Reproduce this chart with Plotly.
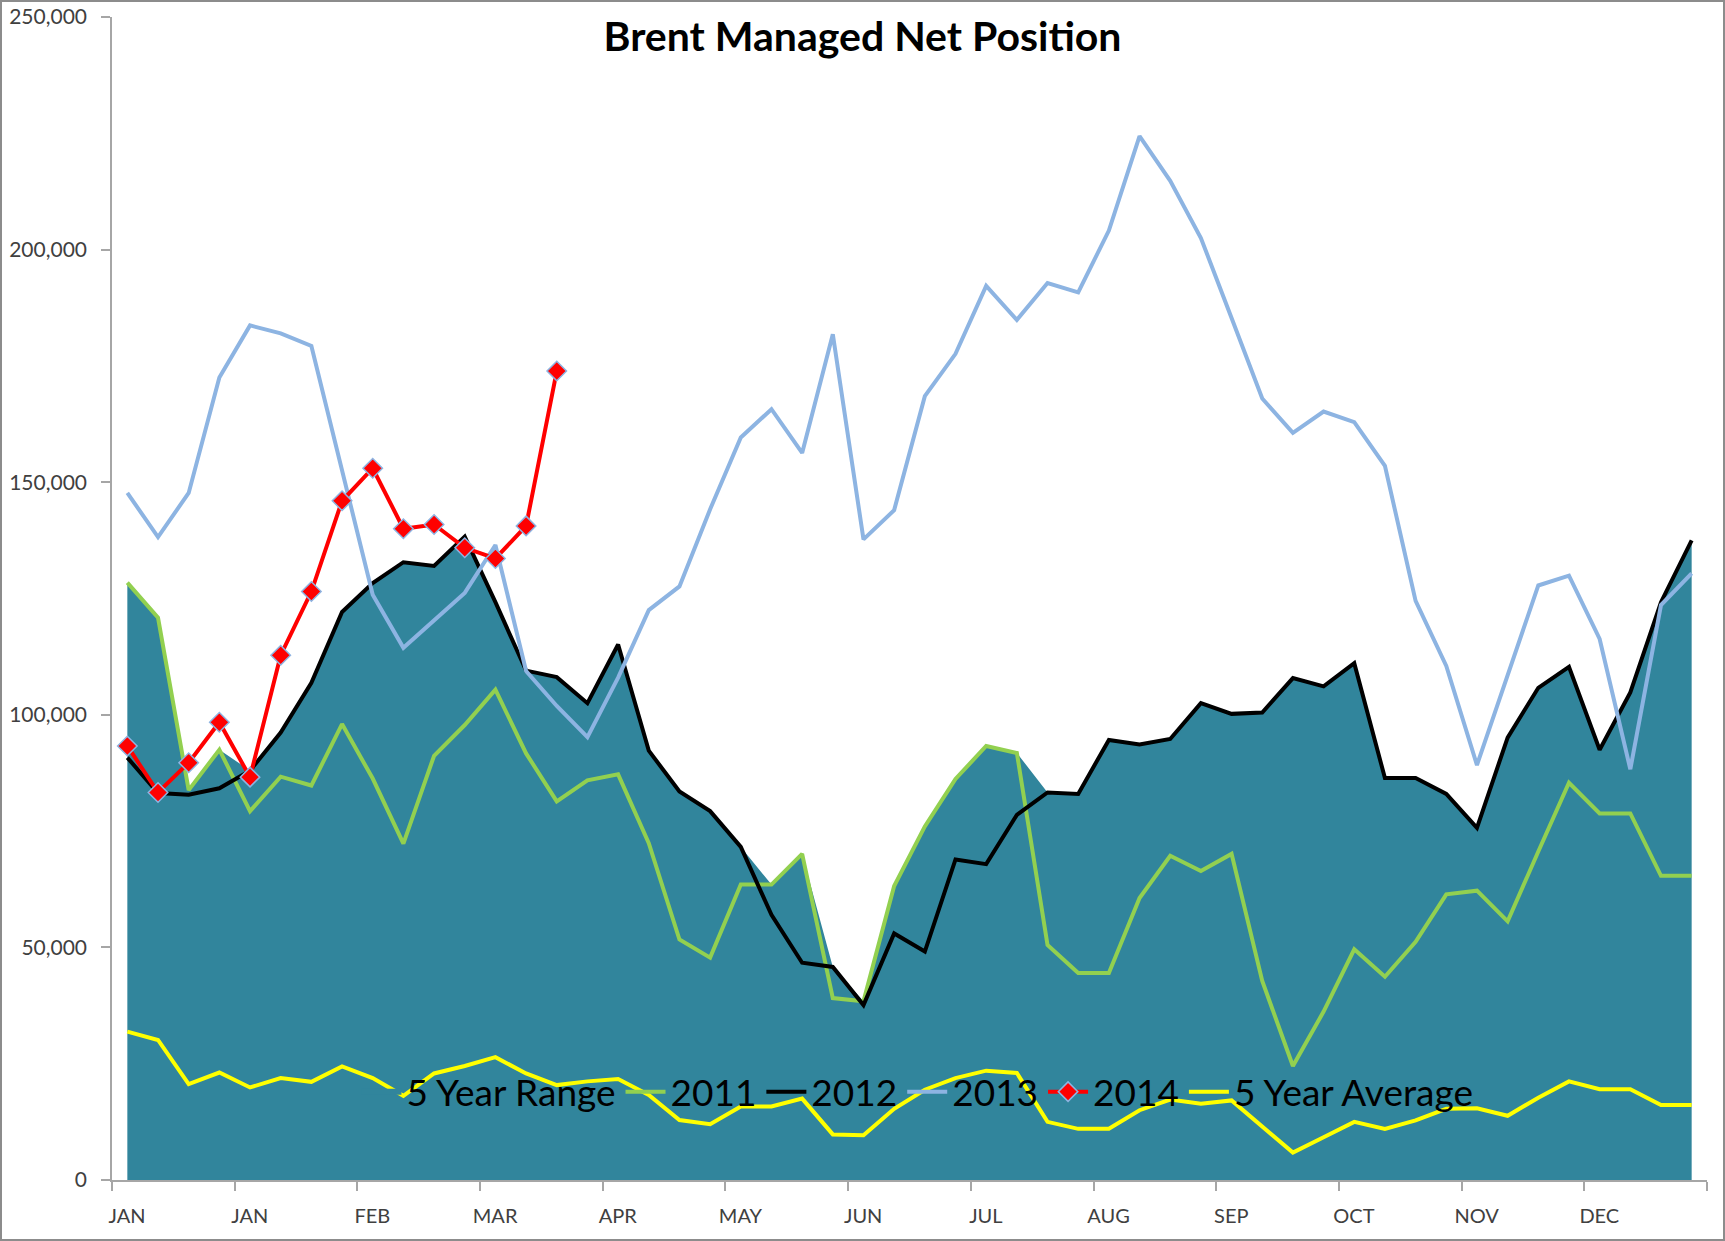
import plotly.graph_objects as go

# ---------------- data ----------------
month_labels = ["JAN", "JAN", "FEB", "MAR", "APR", "MAY", "JUN",
                "JUL", "AUG", "SEP", "OCT", "NOV", "DEC"]
weeks = list(range(52))

range_top = [128400, 120900, 83800, 92500, 88000, 96200, 106900, 122100, 128300, 132800,
             132000, 138300, 124200, 109500, 108100, 102500, 115100, 92300, 83500, 79300,
             71600, 63500, 70100, 45800, 38400, 63200, 76000, 86200, 93300, 91800,
             83300, 83000, 94600, 93600, 94800, 102500, 100200, 100500, 107900, 106100,
             111100, 86400, 86400, 83000, 75700, 95100, 105800, 110300, 92500, 104800,
             124200, 137500]

y2011 = [128400, 120900, 83800, 92500, 79300, 86700, 84800, 98000, 86300, 72300,
         91200, 97800, 105400, 91700, 81400, 85900, 87200, 72400, 51700, 47800,
         63500, 63500, 70100, 39100, 38400, 63200, 76000, 86200, 93300, 91800,
         50500, 44500, 44500, 60600, 69700, 66400, 70100, 42800, 24500, 36200,
         49600, 43700, 51200, 61400, 62200, 55600, 70600, 85400, 78800, 78800,
         65400, 65400]

y2012 = [90800, 83200, 82800, 84200, 88000, 96200, 106900, 122100, 128300, 132800,
         132000, 138300, 124200, 109500, 108100, 102500, 115100, 92300, 83500, 79300,
         71600, 57000, 46700, 45800, 37600, 53000, 49100, 68900, 67900, 78500,
         83300, 83000, 94600, 93600, 94800, 102500, 100200, 100500, 107900, 106100,
         111100, 86400, 86400, 83000, 75700, 95100, 105800, 110300, 92500, 104800,
         124200, 137500]

y2013 = [147700, 138200, 147700, 172500, 183700, 182000, 179300, 152500, 125800, 114400,
         120400, 126200, 136500, 109400, 101900, 95200, 108000, 122500, 127600, 144200,
         159600, 165700, 156300, 181800, 137700, 144000, 168500, 177600, 192200, 184900,
         192800, 190800, 204100, 224400, 214800, 202500, 185300, 168000, 160600, 165200,
         162900, 153500, 124500, 110500, 89200, 108400, 127800, 129900, 116300, 88300,
         123600, 130400]

y2014 = [93300, 83300, 89700, 98400, 86600, 112800, 126500, 146000, 153000, 140000,
         140900, 135900, 133600, 140600, 173900]

avg5 = [31900, 30100, 20600, 23100, 19900, 21900, 21100, 24400, 21900, 18100,
        22900, 24500, 26400, 22900, 20400, 21200, 21700, 18300, 12900, 12000,
        15800, 15800, 17500, 9800, 9600, 15300, 19400, 21900, 23500, 23000,
        12500, 11000, 11000, 15000, 17300, 16400, 17100, 11400, 5900, 9200,
        12500, 11000, 12800, 15300, 15400, 13800, 17700, 21200, 19500, 19500,
        16100, 16100]

# ---------------- figure ----------------
FONT = "Lato"
W, H = 1725, 1241
ML, MR, MT, MB = 112, 18, 17, 61

fig = go.Figure()

fig.add_trace(go.Scatter(
    x=weeks, y=range_top, name="5 Year Range", mode="none",
    fill="tozeroy", fillcolor="#31859C"))
fig.add_trace(go.Scatter(
    x=weeks, y=y2011, name="2011", mode="lines",
    line=dict(color="#92D050", width=4)))
fig.add_trace(go.Scatter(
    x=weeks, y=y2012, name="2012", mode="lines",
    line=dict(color="#000000", width=4)))
fig.add_trace(go.Scatter(
    x=weeks, y=y2013, name="2013", mode="lines",
    line=dict(color="#8DB4E2", width=4)))
fig.add_trace(go.Scatter(
    x=weeks[:len(y2014)], y=y2014, name="2014", mode="lines+markers",
    line=dict(color="#FF0000", width=4),
    marker=dict(symbol="diamond", size=15, color="#FF0000",
                line=dict(color="#8DB4E2", width=1.5))))
fig.add_trace(go.Scatter(
    x=weeks, y=avg5, name="5 Year Average", mode="lines",
    line=dict(color="#FFFF00", width=4)))

tick_pos = [w - 0.5 for w in weeks[::4]] + [51.5]
tick_txt = month_labels + [""]

plot_w = W - ML - MR
plot_h = H - MT - MB

fig.update_layout(
    width=W, height=H,
    margin=dict(l=ML, r=MR, t=MT, b=MB, autoexpand=False),
    paper_bgcolor="white", plot_bgcolor="white",
    font=dict(family=FONT, color="#404040"),
    title=dict(text="<b>Brent Managed Net Position</b>", x=0.5, xref="container",
               xanchor="center", y=1 - 37 / H, yref="container", yanchor="middle",
               font=dict(family=FONT, size=41, color="#000000")),
    showlegend=True,
    legend=dict(orientation="h", x=0.505, xanchor="center", y=0.0756, yanchor="middle",
                bgcolor="rgba(0,0,0,0)", font=dict(family=FONT, size=37, color="#000000"),
                traceorder="normal", itemwidth=40),
    xaxis=dict(range=[-0.5, 51.5], tickmode="array", tickvals=tick_pos, ticktext=tick_txt,
               ticks="outside", ticklen=9, tickcolor="#A6A6A6", tickwidth=1.5,
               ticklabelshift=15, ticklabelstandoff=8, automargin=False,
               showline=True, linecolor="#A6A6A6", linewidth=1.5,
               showgrid=False, zeroline=False,
               tickfont=dict(family=FONT, size=20, color="#404040")),
    yaxis=dict(range=[0, 250000], tickmode="linear", tick0=0, dtick=50000,
               tickformat=",", ticks="outside", ticklen=9, tickcolor="#A6A6A6",
               tickwidth=1.5, ticklabelstandoff=10, automargin=False,
               showline=True, linecolor="#A6A6A6", linewidth=1.5,
               showgrid=False, zeroline=False,
               tickfont=dict(family=FONT, size=21, color="#404040")),
    shapes=[dict(type="rect", xref="paper", yref="paper",
                 x0=(1 - ML) / plot_w, x1=(W - 1 - ML) / plot_w,
                 y0=(plot_h + MT - H + 1) / plot_h, y1=(plot_h + MT - 1) / plot_h,
                 line=dict(color="#8C8C8C", width=2), fillcolor="rgba(0,0,0,0)",
                 layer="above")],
)

fig.write_html("out.html",
               config={"displayModeBar": False},
               post_script="document.body.style.margin='0';document.body.style.padding='0';")
